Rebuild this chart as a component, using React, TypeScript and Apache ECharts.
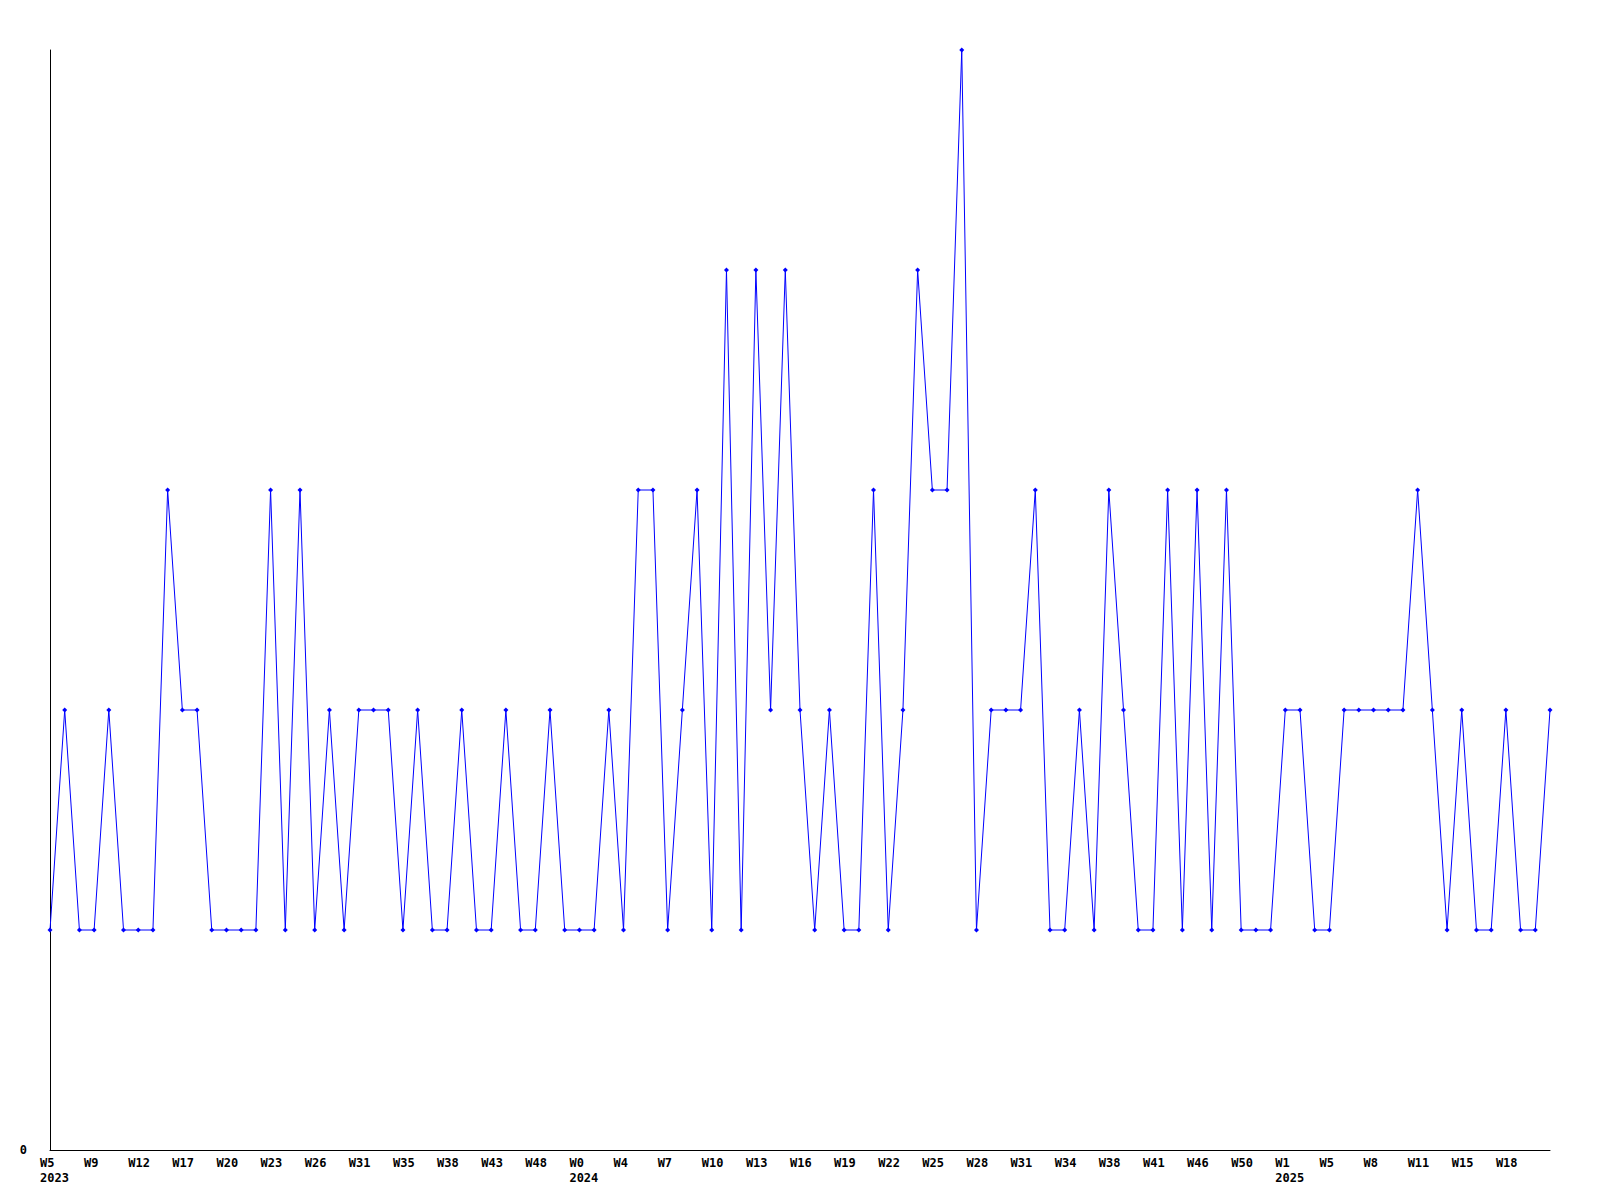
import React, { useEffect, useRef } from 'react';
import * as echarts from 'echarts';

// Tick labels shown every third point (week + year on first of year)
const tickLabels: string[] = [
  'W5\n2023', 'W9', 'W12', 'W17', 'W20', 'W23', 'W26', 'W31', 'W35', 'W38', 'W43', 'W48',
  'W0\n2024', 'W4', 'W7', 'W10', 'W13', 'W16', 'W19', 'W22', 'W25', 'W28', 'W31', 'W34',
  'W38', 'W41', 'W46', 'W50',
  'W1\n2025', 'W5', 'W8', 'W11', 'W15', 'W18',
];

// Weekly counts, one per point
const values: number[] = [
  1, 2, 1, 1, 2, 1, 1, 1, 3, 2,
  2, 1, 1, 1, 1, 3, 1, 3, 1, 2,
  1, 2, 2, 2, 1, 2, 1, 1, 2, 1,
  1, 2, 1, 1, 2, 1, 1, 1, 2, 1,
  3, 3, 1, 2, 3, 1, 4, 1, 4, 2,
  4, 2, 1, 2, 1, 1, 3, 1, 2, 4,
  3, 3, 5, 1, 2, 2, 2, 3, 1, 1,
  2, 1, 3, 2, 1, 1, 3, 1, 3, 1,
  3, 1, 1, 1, 2, 2, 1, 1, 2, 2,
  2, 2, 2, 3, 2, 1, 2, 1, 1, 2,
  1, 1, 2,
];

const categories: string[] = values.map((_, i) =>
  i % 3 === 0 && tickLabels[i / 3] !== undefined ? tickLabels[i / 3] : ''
);

const FONT = 'DejaVu Sans Mono';

export default function App() {
  const ref = useRef<HTMLDivElement>(null);

  useEffect(() => {
    document.body.style.margin = '0';
    if (!ref.current) return;
    const chart = echarts.init(ref.current, null, { renderer: 'svg' });
    chart.setOption({
      animation: false,
      backgroundColor: '#ffffff',
      grid: { left: 50, right: 50, top: 50, bottom: 50, containLabel: false },
      xAxis: {
        type: 'category',
        data: categories,
        boundaryGap: false,
        axisLine: { show: true, lineStyle: { color: '#000000', width: 1 } },
        axisTick: { show: false },
        splitLine: { show: false },
        axisLabel: {
          interval: 2,
          align: 'left',
          padding: [0, 0, 0, -10],
          margin: 5,
          color: '#000000',
          fontFamily: FONT,
          fontWeight: 'bold',
          fontSize: 12,
          lineHeight: 15,
        },
      },
      yAxis: {
        type: 'value',
        min: 0,
        max: 5,
        interval: 5,
        axisLine: { show: true, lineStyle: { color: '#000000', width: 1 } },
        axisTick: { show: false },
        splitLine: { show: false },
        axisLabel: {
          formatter: (v: number) => (v === 0 ? '0' : ''),
          margin: 23,
          color: '#000000',
          fontFamily: FONT,
          fontWeight: 'bold',
          fontSize: 12,
        },
      },
      series: [
        {
          type: 'line',
          data: values,
          symbol: 'diamond',
          symbolSize: 5,
          showAllSymbol: true,
          itemStyle: { color: '#0000ff' },
          lineStyle: { color: '#0000ff', width: 1 },
        },
      ],
    });
    return () => chart.dispose();
  }, []);

  return <div ref={ref} style={{ width: 1600, height: 1200 }} />;
}
